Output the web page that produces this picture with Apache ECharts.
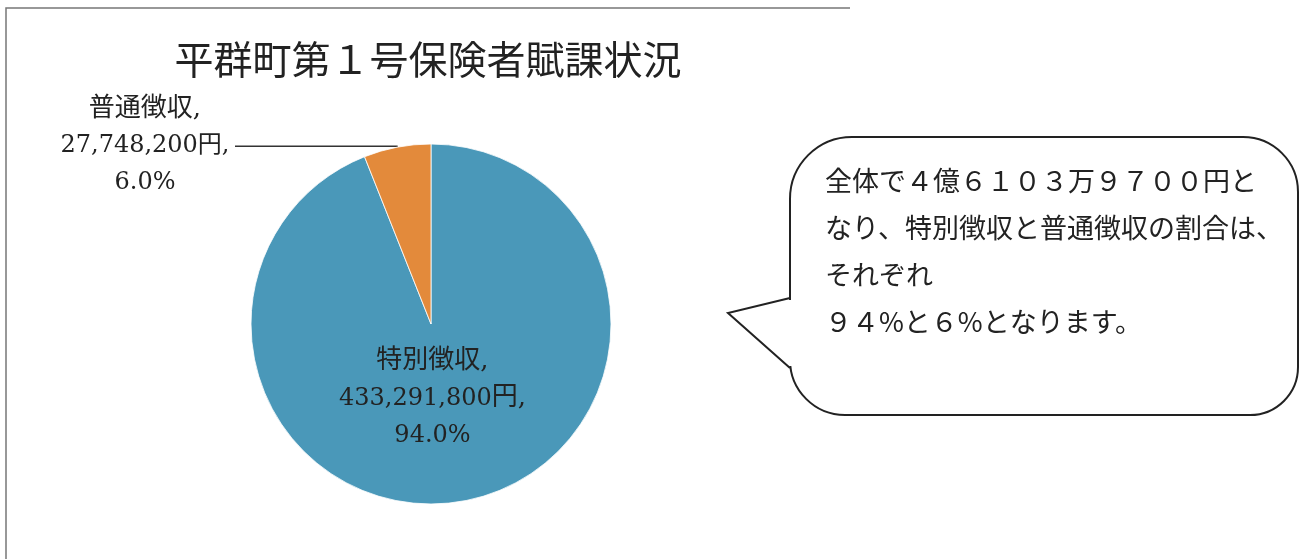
<!DOCTYPE html>
<html>
<head>
<meta charset="utf-8">
<script src="https://cdn.jsdelivr.net/npm/echarts@6/dist/echarts.min.js"></script>
<style>
html,body{margin:0;padding:0;background:#fff;}
#c{width:1301px;height:559px;}
</style>
</head>
<body>
<div id="c"></div>
<script>
const titleText = '平群町第１号保険者賦課状況';
const categories = ['特別徴収', '普通徴収'];
const values = [433291800, 27748200];
const colors = ['#4a98b9', '#e38a3b'];
const calloutLines = [
  '全体で４億６１０３万９７００円と',
  'なり、特別徴収と普通徴収の割合は、',
  'それぞれ',
  '９４%と６%となります。'
];

const serif = '"DejaVu Serif", "Liberation Serif", "Noto Sans CJK JP", serif';
const sans = '"Noto Sans CJK JP", sans-serif';

const chart = echarts.init(document.getElementById('c'));

function fmt(p) {
  return '{j|' + p.name + ',}\n{n|' + p.value.toLocaleString('en-US') + '}{j|円,}\n{n|' + p.percent.toFixed(1) + '%}';
}

const data = categories.map((n, i) => ({
  name: n,
  value: values[i],
  itemStyle: { color: colors[i] }
}));
data[1].label = {
  position: 'outside',
  distanceToLabelLine: 2,
  formatter: function (p) {
    return '{j|' + p.name + ',}\n{a|' + p.value.toLocaleString('en-US') + '円,}\n{a|' + p.percent.toFixed(1) + '%}';
  },
  rich: {
    a: { width: 176, align: 'center', fontSize: 24, lineHeight: 37, fontFamily: serif, color: '#222' },
    j: { width: 176, align: 'center', fontSize: 26, lineHeight: 37, fontFamily: serif, color: '#222' }
  }
};
data[1].labelLine = {
  show: true,
  length: 1,
  length2: 162,
  smooth: false,
  lineStyle: { color: '#333', width: 1.5 }
};

chart.setOption({
  backgroundColor: '#ffffff',
  animation: false,
  title: {
    text: titleText,
    left: 423,
    top: 35,
    textAlign: 'center',
    textStyle: { fontFamily: sans, fontSize: 39, fontWeight: 'normal', color: '#222' }
  },
  series: [{
    type: 'pie',
    center: [431, 324],
    radius: [0, 180],
    startAngle: 90,
    clockwise: true,
    avoidLabelOverlap: false,
    itemStyle: { borderColor: '#ffffff', borderWidth: 0.8 },
    label: {
      show: true,
      position: 'inside',
      formatter: fmt,
      fontSize: 24,
      lineHeight: 37,
      fontFamily: serif,
      color: '#222',
      rich: {
        n: { fontSize: 24, lineHeight: 37, fontFamily: serif, color: '#222' },
        j: { fontSize: 26, lineHeight: 37, fontFamily: serif, color: '#222' }
      }
    },
    labelLine: { show: false },
    labelLayout: function (p) {
      if (p.dataIndex === 0) return { dx: -16, dy: -17 };
      return {};
    },
    data: data
  }],
  graphic: [
    {
      type: 'polyline',
      shape: { points: [[6, 559], [6, 8], [850, 8]] },
      style: { stroke: '#777', lineWidth: 1.5, fill: null }
    },
    {
      type: 'rect',
      shape: { x: 790, y: 137, width: 508, height: 278, r: [62, 55, 48, 55] },
      style: { stroke: '#222', lineWidth: 2, fill: '#ffffff' }
    },
    {
      type: 'line',
      shape: { x1: 790, y1: 300, x2: 790, y2: 366 },
      style: { stroke: '#ffffff', lineWidth: 4 }
    },
    {
      type: 'polyline',
      shape: { points: [[790, 298], [728, 313], [790, 368]] },
      style: { stroke: '#222', lineWidth: 2, fill: null }
    },
    {
      type: 'text',
      x: 825,
      y: 157,
      style: {
        text: calloutLines.join('\n'),
        fontFamily: sans,
        fontSize: 27,
        lineHeight: 47,
        fill: '#222',
        verticalAlign: 'top',
        align: 'left'
      }
    }
  ]
});
</script>
</body>
</html>
